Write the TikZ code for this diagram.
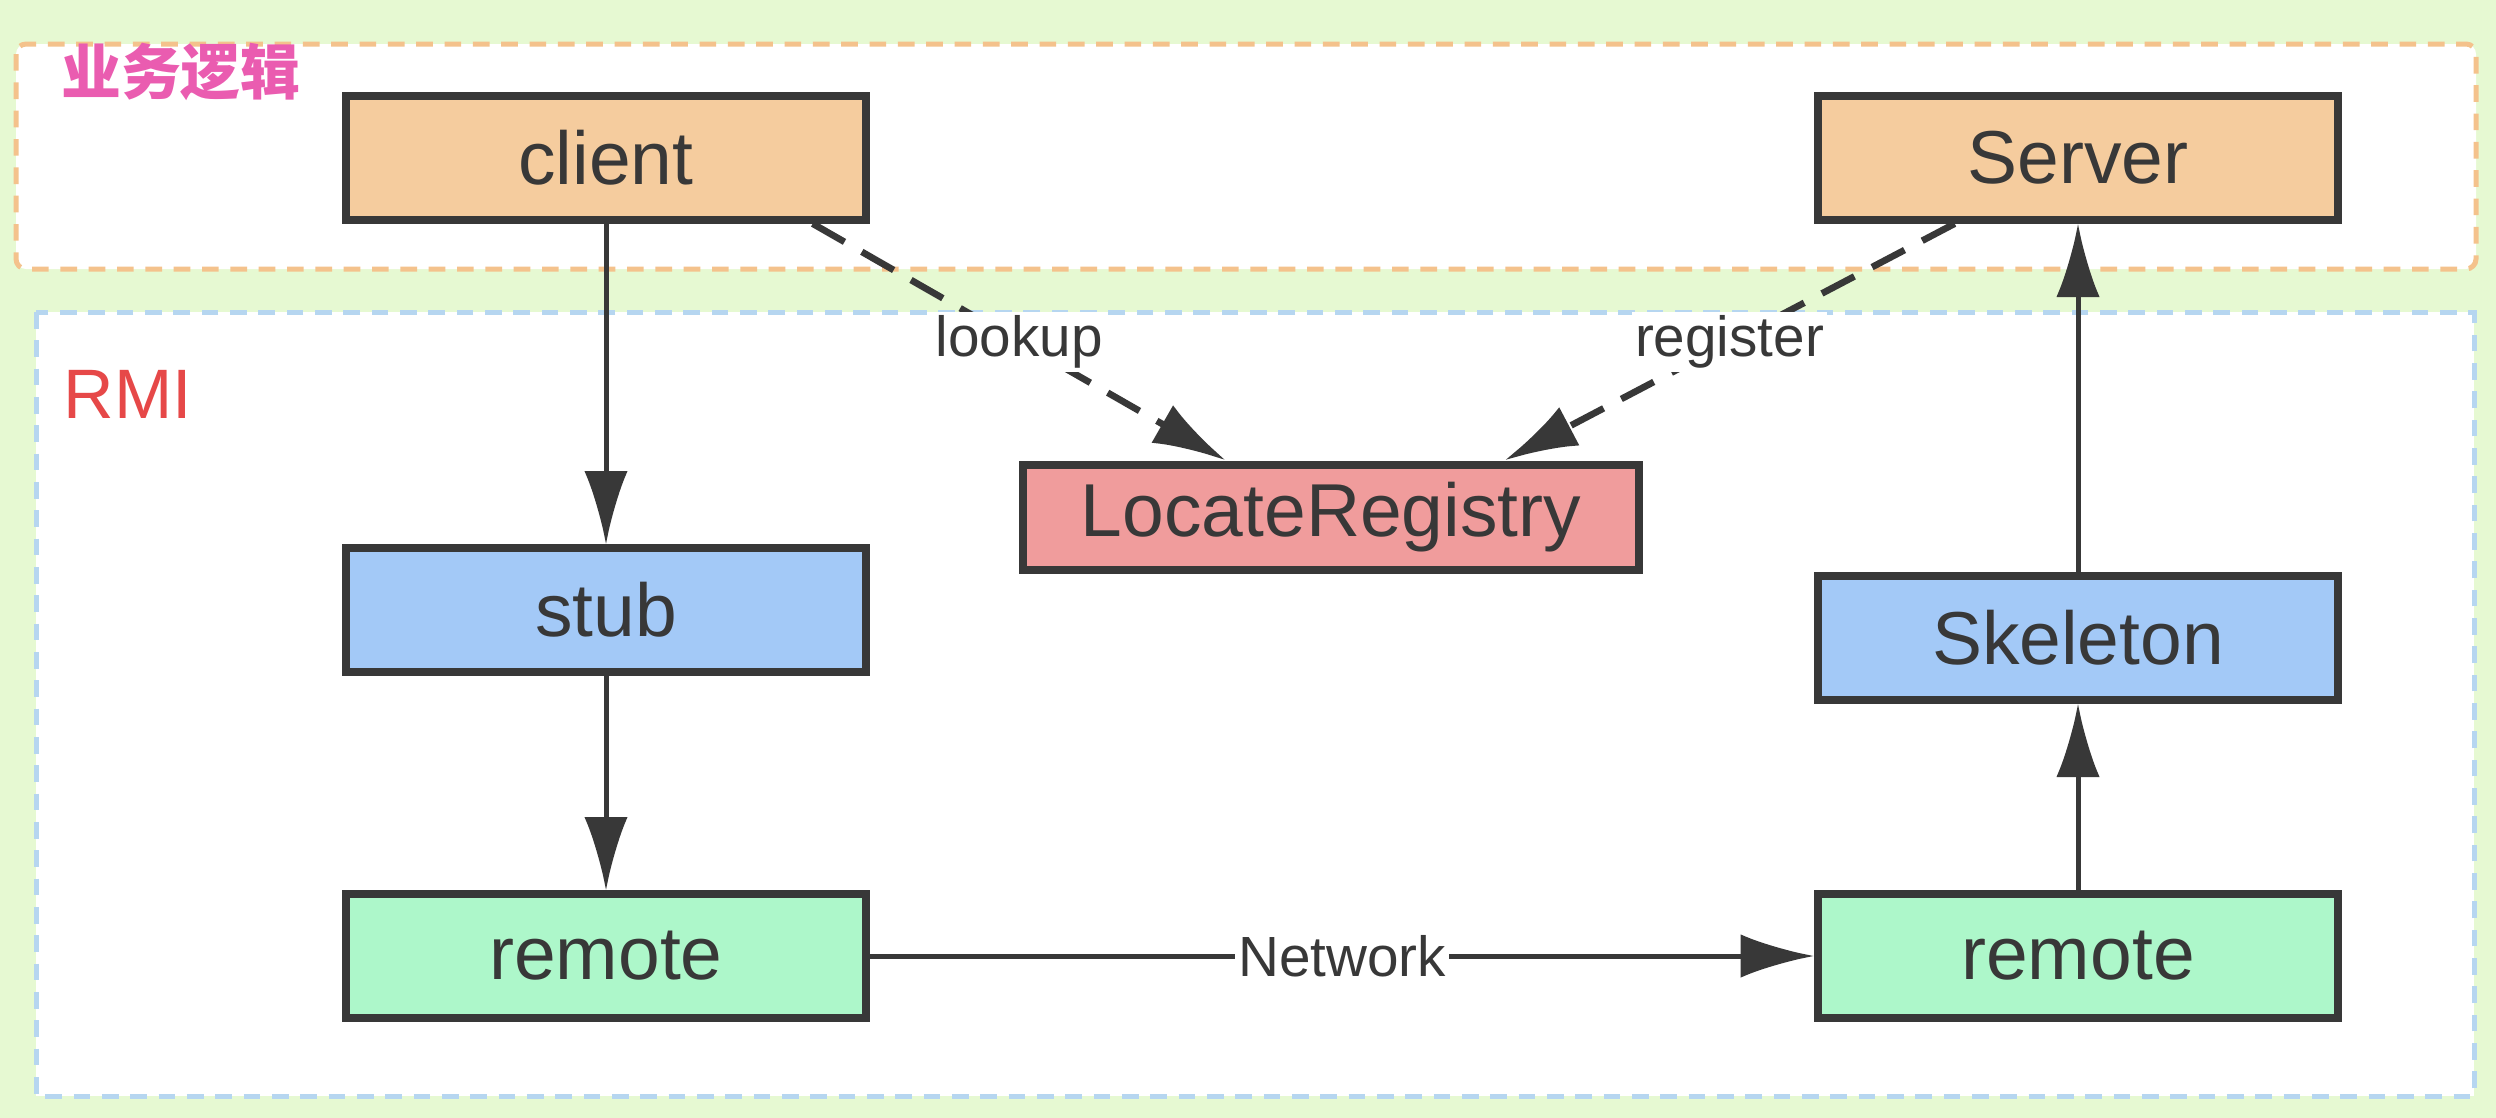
\documentclass[tikz,border=0pt]{standalone}
\usepackage{fontspec}
\setmainfont{Liberation Sans}
\newfontfamily\cjk{Noto Sans CJK SC}
\usetikzlibrary{arrows.meta}
\definecolor{bggreen}{RGB}{230,249,210}
\definecolor{grporange}{RGB}{244,194,140}
\definecolor{grpblue}{RGB}{182,214,240}
\definecolor{orfill}{RGB}{245,204,158}
\definecolor{redfill}{RGB}{240,156,156}
\definecolor{bluefill}{RGB}{163,201,247}
\definecolor{greenfill}{RGB}{173,247,202}
\definecolor{ink}{RGB}{56,56,56}
\definecolor{pinktext}{RGB}{234,92,176}
\definecolor{redtext}{RGB}{230,72,72}
\tikzset{
  boxnode/.style={draw=ink, line width=2.4pt, minimum width=156pt, minimum height=37pt,
    inner sep=0pt, text=ink, font=\fontsize{22.5}{26}\selectfont},
  grpbox/.style={line width=1.5pt, dash pattern=on 5pt off 3.5pt},
  conn/.style={draw=ink, line width=1.5pt, -{Latex[length=22pt,width=13pt]}},
  dconn/.style={draw=ink, line width=2pt, dash pattern=on 11pt off 6pt,
    -{Latex[length=22pt,width=13pt]}},
  lbl/.style={fill=white, text=ink, inner sep=1pt, font=\fontsize{17}{20}\selectfont}
}
\begin{document}
\begin{tikzpicture}[x=0.3pt,y=-0.3pt]
\fill[bggreen] (0,0) rectangle (2496,1118);
\useasboundingbox (0,0) rectangle (2496,1118);
% group boxes
\draw[grpbox, draw=grporange, fill=white, rounded corners=3pt] (16,44) rectangle (2476,269);
\draw[grpbox, draw=grpblue, fill=white] (36,312) rectangle (2474,1096);
\node[text=pinktext, font=\cjk\bfseries\fontsize{18}{20}\selectfont] (biz) at (181,72) {业务逻辑};
\node[text=redtext, font=\fontsize{21}{24}\selectfont] (rmi) at (128,394) {RMI};
% nodes
\node[boxnode, fill=orfill] (client) at (606,158) {client};
\node[boxnode, fill=orfill] (server) at (2078,158) {Server};
\node[boxnode, fill=redfill, minimum width=185pt, minimum height=31.5pt] (locate) at (1331,517) {LocateRegistry};
\node[boxnode, fill=bluefill] (stub) at (606,610) {stub};
\node[boxnode, fill=bluefill] (skeleton) at (2078,638) {Skeleton};
\node[boxnode, fill=greenfill] (remoteL) at (606,956) {remote};
\node[boxnode, fill=greenfill] (remoteR) at (2078,956) {remote};
% connectors
\draw[conn] (client.south) -- (stub.north);
\draw[conn] (stub.south) -- (remoteL.north);
\draw[conn] (remoteR.north) -- (skeleton.south);
\draw[conn] (skeleton.north) -- (server.south);
\draw[conn] (remoteL.east) -- node[lbl] {Network} (remoteR.west);
\draw[dconn] ([xshift=62pt]client.south) -- node[lbl] {lookup} ([xshift=-31.5pt]locate.north);
\draw[dconn] ([xshift=-37pt]server.south) -- node[lbl] {register} ([xshift=52pt]locate.north);
\end{tikzpicture}
\end{document}
